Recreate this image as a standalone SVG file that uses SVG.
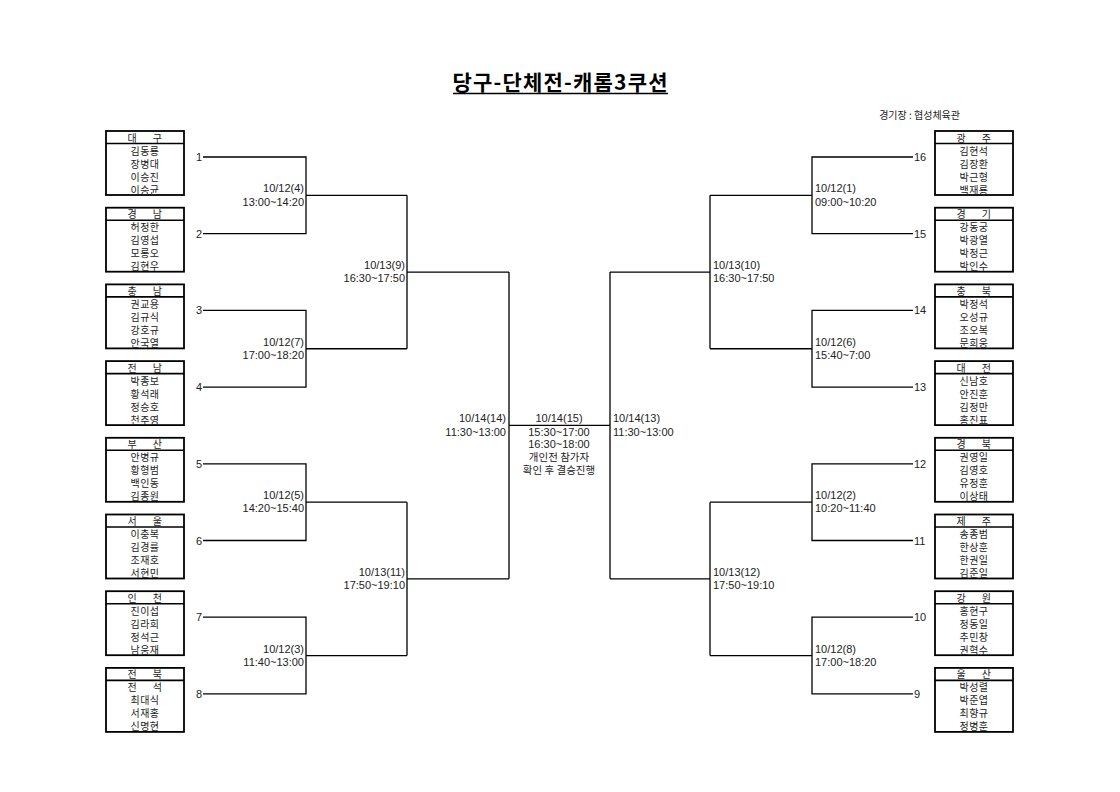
<svg xmlns="http://www.w3.org/2000/svg" width="1120" height="792" viewBox="0 0 1120 792">
<style>
text{font-family:"Liberation Sans","Noto Sans CJK KR",sans-serif;fill:#222;}
.title{font-family:"Noto Sans CJK KR",sans-serif;font-size:21px;font-weight:bold;fill:#000;}
.venue{font-family:"Noto Sans CJK KR",sans-serif;font-size:10px;}
.box rect{fill:#fff;stroke:#000;stroke-width:1.8;}
.box line{stroke:#000;stroke-width:1.6;}
.box text{font-family:"Noto Sans CJK KR",sans-serif;font-size:10px;text-anchor:middle;letter-spacing:0.4px;}
.box .hd{word-spacing:13px;}
.lbl{font-size:11px;}
.num{font-size:11px;}
.end{text-anchor:end;}
.mid{text-anchor:middle;}
.kr{font-family:"Noto Sans CJK KR",sans-serif;font-size:10.5px;}
#connectors path{fill:none;stroke:#000;stroke-width:1.3;}
</style>

<g id="title">
<text class="title mid" x="560" y="90" textLength="215" lengthAdjust="spacing">당구-단체전-캐롬3쿠션</text>
<line x1="453" y1="93.5" x2="668" y2="93.5" stroke="#000" stroke-width="1.6"/>
</g>
<text class="venue end" x="960" y="119">경기장 : 협성체육관</text>

<g id="connectors">
<path d="M203,157 H306 V233.7 H203 M306,195.35 H407"/>
<path d="M203,310.4 H306 V387.1 H203 M306,348.75 H407"/>
<path d="M203,463.8 H306 V540.5 H203 M306,502.15 H407"/>
<path d="M203,617.2 H306 V693.9 H203 M306,655.55 H407"/>
<path d="M407,195.35 V348.75 M407,272.05 H509"/>
<path d="M407,502.15 V655.55 M407,578.85 H509"/>
<path d="M509,272.05 V578.85 M509,425.45 H610 M610,272.05 V578.85"/>
<path d="M610,272.05 H710 M610,578.85 H710"/>
<path d="M710,195.35 V348.75 M710,502.15 V655.55"/>
<path d="M710,195.35 H812 M710,348.75 H812 M710,502.15 H812 M710,655.55 H812"/>
<path d="M913,157 H812 V233.7 H913"/>
<path d="M913,310.4 H812 V387.1 H913"/>
<path d="M913,463.8 H812 V540.5 H913"/>
<path d="M913,617.2 H812 V693.9 H913"/>
</g>

<g id="entry-numbers" class="num">
<text class="end" x="202" y="161">1</text>
<text class="end" x="202" y="237.7">2</text>
<text class="end" x="202" y="314.4">3</text>
<text class="end" x="202" y="391.1">4</text>
<text class="end" x="202" y="467.8">5</text>
<text class="end" x="202" y="544.5">6</text>
<text class="end" x="202" y="621.2">7</text>
<text class="end" x="202" y="697.9">8</text>
<text x="914" y="161">16</text>
<text x="914" y="237.7">15</text>
<text x="914" y="314.4">14</text>
<text x="914" y="391.1">13</text>
<text x="914" y="467.8">12</text>
<text x="914" y="544.5">11</text>
<text x="914" y="621.2">10</text>
<text x="914" y="697.9">9</text>
</g>

<g id="match-labels" class="lbl">
<text class="end" x="304" y="192.3">10/12(4)</text><text class="end" x="304" y="205.5">13:00~14:20</text>
<text class="end" x="304" y="345.7">10/12(7)</text><text class="end" x="304" y="358.9">17:00~18:20</text>
<text class="end" x="304" y="499.1">10/12(5)</text><text class="end" x="304" y="512.3">14:20~15:40</text>
<text class="end" x="304" y="652.5">10/12(3)</text><text class="end" x="304" y="665.7">11:40~13:00</text>
<text class="end" x="405" y="269">10/13(9)</text><text class="end" x="405" y="282.2">16:30~17:50</text>
<text class="end" x="405" y="575.8">10/13(11)</text><text class="end" x="405" y="589">17:50~19:10</text>
<text class="end" x="506" y="422.4">10/14(14)</text><text class="end" x="506" y="435.6">11:30~13:00</text>
<text x="815" y="192.3">10/12(1)</text><text x="815" y="205.5">09:00~10:20</text>
<text x="815" y="345.7">10/12(6)</text><text x="815" y="358.9">15:40~7:00</text>
<text x="815" y="499.1">10/12(2)</text><text x="815" y="512.3">10:20~11:40</text>
<text x="815" y="652.5">10/12(8)</text><text x="815" y="665.7">17:00~18:20</text>
<text x="713" y="269">10/13(10)</text><text x="713" y="282.2">16:30~17:50</text>
<text x="713" y="575.8">10/13(12)</text><text x="713" y="589">17:50~19:10</text>
<text x="613" y="422.4">10/14(13)</text><text x="613" y="435.6">11:30~13:00</text>
</g>

<g id="final" class="lbl">
<text class="mid" x="559" y="422.4">10/14(15)</text>
<text class="mid" x="559" y="435.6">15:30~17:00</text>
<text class="mid" x="559" y="448.3">16:30~18:00</text>
<text class="mid kr" x="559" y="461">개인전 참가자</text>
<text class="mid kr" x="559" y="474">확인 후 결승진행</text>
</g>

<g id="team-daegu" class="box" transform="translate(106,131)">
<rect width="78" height="64"/><line x1="0" y1="12.5" x2="78" y2="12.5"/>
<text class="hd" x="39" y="10.5">대 구</text>
<text x="39" y="23.5">김동룡</text><text x="39" y="36.5">장병대</text><text x="39" y="49.5">이승진</text><text x="39" y="62.5">이승균</text>
</g>
<g id="team-gyeongnam" class="box" transform="translate(106,207.7)">
<rect width="78" height="64"/><line x1="0" y1="12.5" x2="78" y2="12.5"/>
<text class="hd" x="39" y="10.5">경 남</text>
<text x="39" y="23.5">허정한</text><text x="39" y="36.5">김영섭</text><text x="39" y="49.5">모롱오</text><text x="39" y="62.5">김현우</text>
</g>
<g id="team-chungnam" class="box" transform="translate(106,284.4)">
<rect width="78" height="64"/><line x1="0" y1="12.5" x2="78" y2="12.5"/>
<text class="hd" x="39" y="10.5">충 남</text>
<text x="39" y="23.5">권교용</text><text x="39" y="36.5">김규식</text><text x="39" y="49.5">강호규</text><text x="39" y="62.5">안국열</text>
</g>
<g id="team-jeonnam" class="box" transform="translate(106,361.1)">
<rect width="78" height="64"/><line x1="0" y1="12.5" x2="78" y2="12.5"/>
<text class="hd" x="39" y="10.5">전 남</text>
<text x="39" y="23.5">박종보</text><text x="39" y="36.5">황석래</text><text x="39" y="49.5">정승호</text><text x="39" y="62.5">천주영</text>
</g>
<g id="team-busan" class="box" transform="translate(106,437.8)">
<rect width="78" height="64"/><line x1="0" y1="12.5" x2="78" y2="12.5"/>
<text class="hd" x="39" y="10.5">부 산</text>
<text x="39" y="23.5">안병규</text><text x="39" y="36.5">황형범</text><text x="39" y="49.5">백인동</text><text x="39" y="62.5">김종원</text>
</g>
<g id="team-seoul" class="box" transform="translate(106,514.5)">
<rect width="78" height="64"/><line x1="0" y1="12.5" x2="78" y2="12.5"/>
<text class="hd" x="39" y="10.5">서 울</text>
<text x="39" y="23.5">이충복</text><text x="39" y="36.5">김경률</text><text x="39" y="49.5">조재호</text><text x="39" y="62.5">서현민</text>
</g>
<g id="team-incheon" class="box" transform="translate(106,591.2)">
<rect width="78" height="64"/><line x1="0" y1="12.5" x2="78" y2="12.5"/>
<text class="hd" x="39" y="10.5">인 천</text>
<text x="39" y="23.5">진이섭</text><text x="39" y="36.5">김라희</text><text x="39" y="49.5">정석근</text><text x="39" y="62.5">남웅재</text>
</g>
<g id="team-jeonbuk" class="box" transform="translate(106,667.9)">
<rect width="78" height="64"/><line x1="0" y1="12.5" x2="78" y2="12.5"/>
<text class="hd" x="39" y="10.5">전 북</text>
<text class="hd" x="39" y="23.5">전 석</text><text x="39" y="36.5">최대식</text><text x="39" y="49.5">서재홍</text><text x="39" y="62.5">신명현</text>
</g>

<g id="team-gwangju" class="box" transform="translate(935,131)">
<rect width="78" height="64"/><line x1="0" y1="12.5" x2="78" y2="12.5"/>
<text class="hd" x="39" y="10.5">광 주</text>
<text x="39" y="23.5">김현석</text><text x="39" y="36.5">김장환</text><text x="39" y="49.5">박근형</text><text x="39" y="62.5">백재룡</text>
</g>
<g id="team-gyeonggi" class="box" transform="translate(935,207.7)">
<rect width="78" height="64"/><line x1="0" y1="12.5" x2="78" y2="12.5"/>
<text class="hd" x="39" y="10.5">경 기</text>
<text x="39" y="23.5">강동궁</text><text x="39" y="36.5">박광열</text><text x="39" y="49.5">박정근</text><text x="39" y="62.5">박인수</text>
</g>
<g id="team-chungbuk" class="box" transform="translate(935,284.4)">
<rect width="78" height="64"/><line x1="0" y1="12.5" x2="78" y2="12.5"/>
<text class="hd" x="39" y="10.5">충 북</text>
<text x="39" y="23.5">박정석</text><text x="39" y="36.5">오성규</text><text x="39" y="49.5">조오복</text><text x="39" y="62.5">문희웅</text>
</g>
<g id="team-daejeon" class="box" transform="translate(935,361.1)">
<rect width="78" height="64"/><line x1="0" y1="12.5" x2="78" y2="12.5"/>
<text class="hd" x="39" y="10.5">대 전</text>
<text x="39" y="23.5">신남호</text><text x="39" y="36.5">안진훈</text><text x="39" y="49.5">김정만</text><text x="39" y="62.5">홍진표</text>
</g>
<g id="team-gyeongbuk" class="box" transform="translate(935,437.8)">
<rect width="78" height="64"/><line x1="0" y1="12.5" x2="78" y2="12.5"/>
<text class="hd" x="39" y="10.5">경 북</text>
<text x="39" y="23.5">권영일</text><text x="39" y="36.5">김영호</text><text x="39" y="49.5">유정훈</text><text x="39" y="62.5">이상태</text>
</g>
<g id="team-jeju" class="box" transform="translate(935,514.5)">
<rect width="78" height="64"/><line x1="0" y1="12.5" x2="78" y2="12.5"/>
<text class="hd" x="39" y="10.5">제 주</text>
<text x="39" y="23.5">송종범</text><text x="39" y="36.5">한상훈</text><text x="39" y="49.5">한권일</text><text x="39" y="62.5">김준일</text>
</g>
<g id="team-gangwon" class="box" transform="translate(935,591.2)">
<rect width="78" height="64"/><line x1="0" y1="12.5" x2="78" y2="12.5"/>
<text class="hd" x="39" y="10.5">강 원</text>
<text x="39" y="23.5">홍현구</text><text x="39" y="36.5">정동일</text><text x="39" y="49.5">추민창</text><text x="39" y="62.5">권혁수</text>
</g>
<g id="team-ulsan" class="box" transform="translate(935,667.9)">
<rect width="78" height="64"/><line x1="0" y1="12.5" x2="78" y2="12.5"/>
<text class="hd" x="39" y="10.5">울 산</text>
<text x="39" y="23.5">박성렬</text><text x="39" y="36.5">박준엽</text><text x="39" y="49.5">최향규</text><text x="39" y="62.5">정병훈</text>
</g>
</svg>
